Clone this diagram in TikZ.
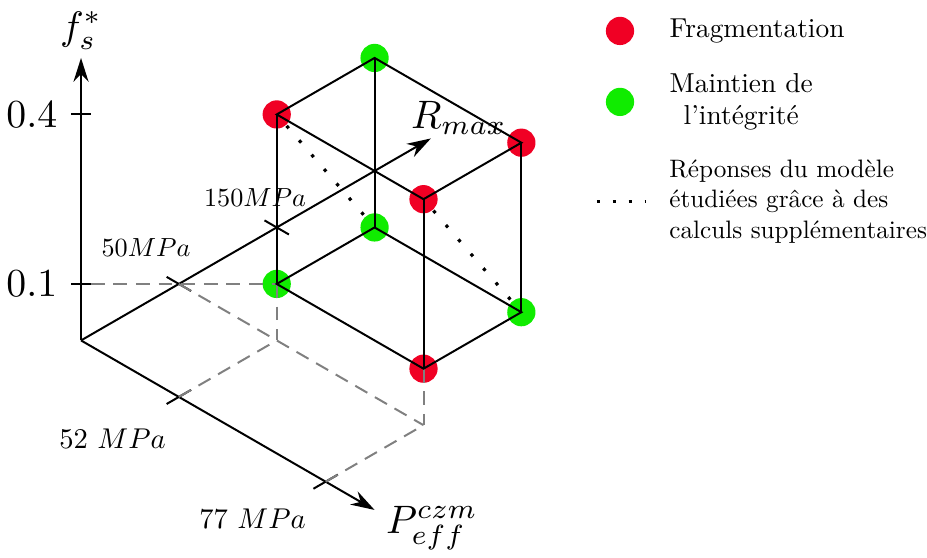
\documentclass[tikz,border=0pt]{standalone}
\usepackage{amsmath}
\usepackage{graphicx}
\usetikzlibrary{arrows.meta, positioning}
\definecolor{fragred}{RGB}{240,0,36}
\definecolor{keepgreen}{RGB}{16,236,0}
\tikzset{
	vertex/.style={circle, inner sep=0pt, minimum size=0.25cm},
	frag/.style={vertex, fill=fragred},
	intact/.style={vertex, fill=keepgreen},
	axisline/.style={-{Stealth[length=6pt, width=3.8pt]}},
	guide/.style={black!50, dash pattern=on 3.5pt off 2.2pt},
	extra/.style={line width=0.8pt, dash pattern=on 0.8pt off 4pt},
}
\begin{document}
\begin{tikzpicture}[x={(0.433cm,-0.25cm)}, y={(0.433cm,0.25cm)}, z={(0cm,0.5cm)}, line width=0.5pt]
		\useasboundingbox (-0.717cm,-1.925cm) rectangle (7.487cm,3.013cm);
		% Responses at the corners of the plan (P, R, f)
		\node[intact] (v000) at (2,2,1) {};
		\node[frag]   (v100) at (5,2,1) {};
		\node[intact] (v010) at (2,4,1) {};
		\node[intact] (v110) at (5,4,1) {};
		\node[frag]   (v001) at (2,2,4) {};
		\node[frag]   (v101) at (5,2,4) {};
		\node[intact] (v011) at (2,4,4) {};
		\node[frag]   (v111) at (5,4,4) {};
		% Axes
		\coordinate (O) at (0,0,0);
		\draw[axisline] (O) -- (0,0,5) node[above, inner sep=2pt] (flab) {$f_s^*$};
		\draw[axisline] (O) -- (6,0,0) coordinate (pend);
		\draw[axisline] (O) -- (0,7.15,0) coordinate (rend);
		\node (plab) at (3.106cm,-1.659cm) {$P_{eff}^{czm}$};
		\node (rlab) at (3.345cm,1.965cm) {$R_{max}$};
		% Ticks
		\coordinate (ptickA) at (2,0,0);
		\coordinate (ptickB) at (5,0,0);
		\coordinate (rtickA) at (0,2,0);
		\coordinate (rtickB) at (0,4,0);
		\coordinate (ftickA) at (0,0,1);
		\coordinate (ftickB) at (0,0,4);
		\draw (ptickA) ++(0,-0.25,0) -- ++(0,0.5,0);
		\draw (ptickB) ++(0,-0.25,0) -- ++(0,0.5,0);
		\draw (rtickA) ++(-0.25,0,0) -- ++(0.5,0,0);
		\draw (rtickB) ++(-0.25,0,0) -- ++(0.5,0,0);
		\draw (ftickA) ++(-0.085cm,0) node[left] (flo) {$0.1$} -- ++(0.17cm,0) coordinate (ftickAend);
		\draw (ftickB) ++(-0.085cm,0) node[left] (fhi) {$0.4$} -- ++(0.17cm,0);
		\node (plo) at (0.279cm,-0.876cm) {\scalebox{0.72}{52 $MPa$}};
		\node (phi) at (1.518cm,-1.584cm) {\scalebox{0.72}{77 $MPa$}};
		\node (rlo) at (0.575cm,0.823cm) {\scalebox{0.66}{$50MPa$}};
		\node (rhi) at (1.540cm,1.261cm) {\scalebox{0.66}{$150MPa$}};
		% Projections of the lower corners
		\coordinate (floorA) at (2,2,0);
		\coordinate (floorD) at (5,2,0);
		\draw[guide] (ftickAend) -- (v000.center);
		\draw[guide] (v000.center) -- (floorA);
		\draw[guide] (v100.center) -- (floorD);
		\draw[guide] (ptickA) -- (floorA);
		\draw[guide] (ptickB) -- (floorD);
		\draw[guide] (rtickA) -- (floorD);
		% Cube
		\draw (v000.center) -- (v100.center) -- (v110.center) -- (v010.center) -- cycle;
		\draw (v001.center) -- (v101.center) -- (v111.center) -- (v011.center) -- cycle;
		\draw (v000.center) -- (v001.center);
		\draw (v100.center) -- (v101.center);
		\draw (v010.center) -- (v011.center);
		\draw (v110.center) -- (v111.center);
		% Additional computations
		\draw[extra] (v001) -- (v010);
		\draw[extra] (v101) -- (v110);
		% Legend
		\node[frag] (legfrag) at (4.770cm,2.739cm) {};
		\node[right=0.18cm of legfrag] (txtfrag) {\scalebox{0.69}{Fragmentation}};
		\node[intact] (legint) at (4.770cm,2.111cm) {};
		\node[right=0.18cm of legint] (txtint) {\scalebox{0.69}{\begin{tabular}{@{}c@{}}Maintien de\\ l'intégrité\end{tabular}}};
		\coordinate (legdotsL) at (4.566cm,1.226cm);
		\coordinate (legdotsR) at (4.991cm,1.226cm);
		\draw[extra, dash pattern=on 0.8pt off 3.2pt] (legdotsL) -- (legdotsR);
		\node[right=0.09cm of legdotsR] (txtdots) {\scalebox{0.635}{\begin{tabular}{@{}l@{}}Réponses du modèle\\ étudiées grâce à des\\ calculs supplémentaires\end{tabular}}};
	\end{tikzpicture}
\end{document}
